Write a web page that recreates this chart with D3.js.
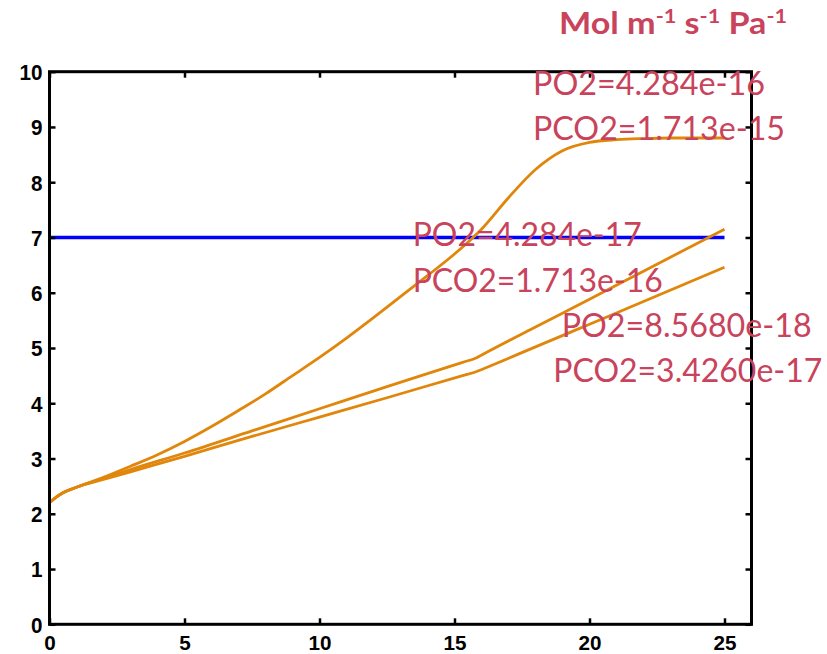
<!DOCTYPE html>
<html>
<head>
<meta charset="utf-8">
<script src="https://cdn.jsdelivr.net/npm/d3@7"></script>
<style>
  body { margin: 0; background: #fff; }
  .tick-label { font-family: "Liberation Sans", Arial, sans-serif; font-weight: bold; font-size: 22px; fill: #000; }
  .note { font-family: Lato, "Open Sans", sans-serif; font-size: 32px; fill: #c8435b; }
  .title { font-family: Lato, "Open Sans", sans-serif; font-weight: bold; font-size: 30px; fill: #c8435b; }
</style>
</head>
<body>
<div id="chart"></div>
<script>
// tick values
const xTicks = [0, 5, 10, 15, 20, 25];
const yTicks = [0, 1, 2, 3, 4, 5, 6, 7, 8, 9, 10];

// reference level (blue)
const refX = [0, 25];
const refY = [7, 7];

// curve A: PO2=4.284e-16
const xA = [0, 0.25, 0.5, 1, 2, 3, 4, 5, 6, 7, 8, 9, 10, 11, 12, 13, 14, 15, 16, 17, 18, 19, 20, 21, 22, 23, 24, 25];
const yA = [2.2, 2.3, 2.38, 2.48, 2.66, 2.86, 3.07, 3.31, 3.58, 3.87, 4.17, 4.5, 4.83, 5.18, 5.55, 5.93, 6.31, 6.7, 7.15, 7.72, 8.23, 8.57, 8.72, 8.77, 8.79, 8.8, 8.8, 8.8];

// curve B: PO2=4.284e-17
const xB = [0, 0.25, 0.5, 1, 2, 3, 5, 7.5, 10, 12.5, 15.3, 15.8, 16.3, 18, 20, 22, 25];
const yB = [2.2, 2.3, 2.38, 2.48, 2.64, 2.8, 3.1, 3.5, 3.9, 4.3, 4.74, 4.82, 4.95, 5.38, 5.88, 6.39, 7.15];

// curve C: PO2=8.5680e-18
const xC = [0, 0.25, 0.5, 1, 2, 3, 5, 7.5, 10, 12.5, 15.3, 15.8, 16.3, 18, 20, 22, 25];
const yC = [2.2, 2.3, 2.38, 2.48, 2.62, 2.76, 3.04, 3.4, 3.75, 4.1, 4.5, 4.57, 4.67, 5.02, 5.43, 5.84, 6.46];

// annotation labels
const notes = [
  {text: "PO2=4.284e-16", x: 533, y: 95, w: 232},
  {text: "PCO2=1.713e-15", x: 533, y: 140, w: 252},
  {text: "PO2=4.284e-17", x: 412.7, y: 246, w: 229},
  {text: "PCO2=1.713e-16", x: 412.7, y: 291.7, w: 250},
  {text: "PO2=8.5680e-18", x: 561.7, y: 337.3, w: 250},
  {text: "PCO2=3.4260e-17", x: 553.3, y: 381.7, w: 269}
];

const margin = {top: 71.7, left: 49.5},
      width = 702,
      height = 552.6;

const svg = d3.select("#chart").append("svg")
    .attr("width", 827)
    .attr("height", 654);

const g = svg.append("g")
    .attr("transform", "translate(" + margin.left + "," + margin.top + ")");

const x = d3.scaleLinear().domain([0, 26]).range([0, width]);
const y = d3.scaleLinear().domain([0, 10]).range([height, 0]);

const line = d3.line()
    .x(d => x(d[0]))
    .y(d => y(d[1]))
    .curve(d3.curveMonotoneX);

// blue reference line
g.append("path")
    .datum(d3.zip(refX, refY))
    .attr("d", line)
    .attr("fill", "none")
    .attr("stroke", "#0000ff")
    .attr("stroke-width", 3.5);

// orange curves
[[xA, yA], [xB, yB], [xC, yC]].forEach(function(s) {
    g.append("path")
        .datum(d3.zip(s[0], s[1]))
        .attr("d", line)
        .attr("fill", "none")
        .attr("stroke", "#e0860a")
        .attr("stroke-width", 2.8);
});

// annotations
svg.selectAll(".note")
    .data(notes)
    .enter().append("text")
    .attr("class", "note")
    .attr("x", d => d.x)
    .attr("y", d => d.y)
    .attr("textLength", d => d.w)
    .attr("lengthAdjust", "spacingAndGlyphs")
    .text(d => d.text);

// units title, superscripts via dy shifts
const title = svg.append("text")
    .attr("class", "title")
    .attr("x", 559)
    .attr("y", 34);
const parts = [["Mol m", 0], ["-1", -11], [" s", 11], ["-1", -11], [" Pa", 11], ["-1", -11]];
parts.forEach(function(p) {
    const t = title.append("tspan").text(p[0]).attr("dy", p[1]);
    if (p[1] < 0) t.style("font-size", "19px");
});
title.attr("textLength", 228).attr("lengthAdjust", "spacingAndGlyphs");

// axes (MATLAB style box with inward ticks)
const xAxisB = g.append("g")
    .attr("transform", "translate(0," + height + ")")
    .call(d3.axisBottom(x).tickValues(xTicks).tickSizeInner(-6).tickSizeOuter(0).tickPadding(0))
    .call(a => a.select(".domain").remove());
g.append("g")
    .call(d3.axisTop(x).tickValues(xTicks).tickSizeInner(-6).tickSizeOuter(0).tickFormat(""))
    .call(a => a.select(".domain").remove());
g.append("g")
    .call(d3.axisLeft(y).tickValues(yTicks).tickSizeInner(-6).tickSizeOuter(0).tickPadding(7))
    .call(a => a.select(".domain").remove());
g.append("g")
    .attr("transform", "translate(" + width + ",0)")
    .call(d3.axisRight(y).tickValues(yTicks).tickSizeInner(-6).tickSizeOuter(0).tickFormat(""))
    .call(a => a.select(".domain").remove());

g.selectAll(".tick line").attr("stroke", "#000").attr("stroke-width", 2.5);
g.selectAll(".tick text")
    .attr("class", "tick-label")
    .attr("dy", "0.36em")
    .attr("textLength", function() { return this.textContent.length * 11.5; })
    .attr("lengthAdjust", "spacingAndGlyphs");
// bottom labels: baseline about 26px under the axis, kept inside the page
xAxisB.selectAll(".tick text")
    .style("font-size", "21px")
    .attr("y", 26)
    .attr("dy", null);

g.append("rect")
    .attr("width", width)
    .attr("height", height)
    .attr("fill", "none")
    .attr("stroke", "#000")
    .attr("stroke-width", 3);
</script>
</body>
</html>
